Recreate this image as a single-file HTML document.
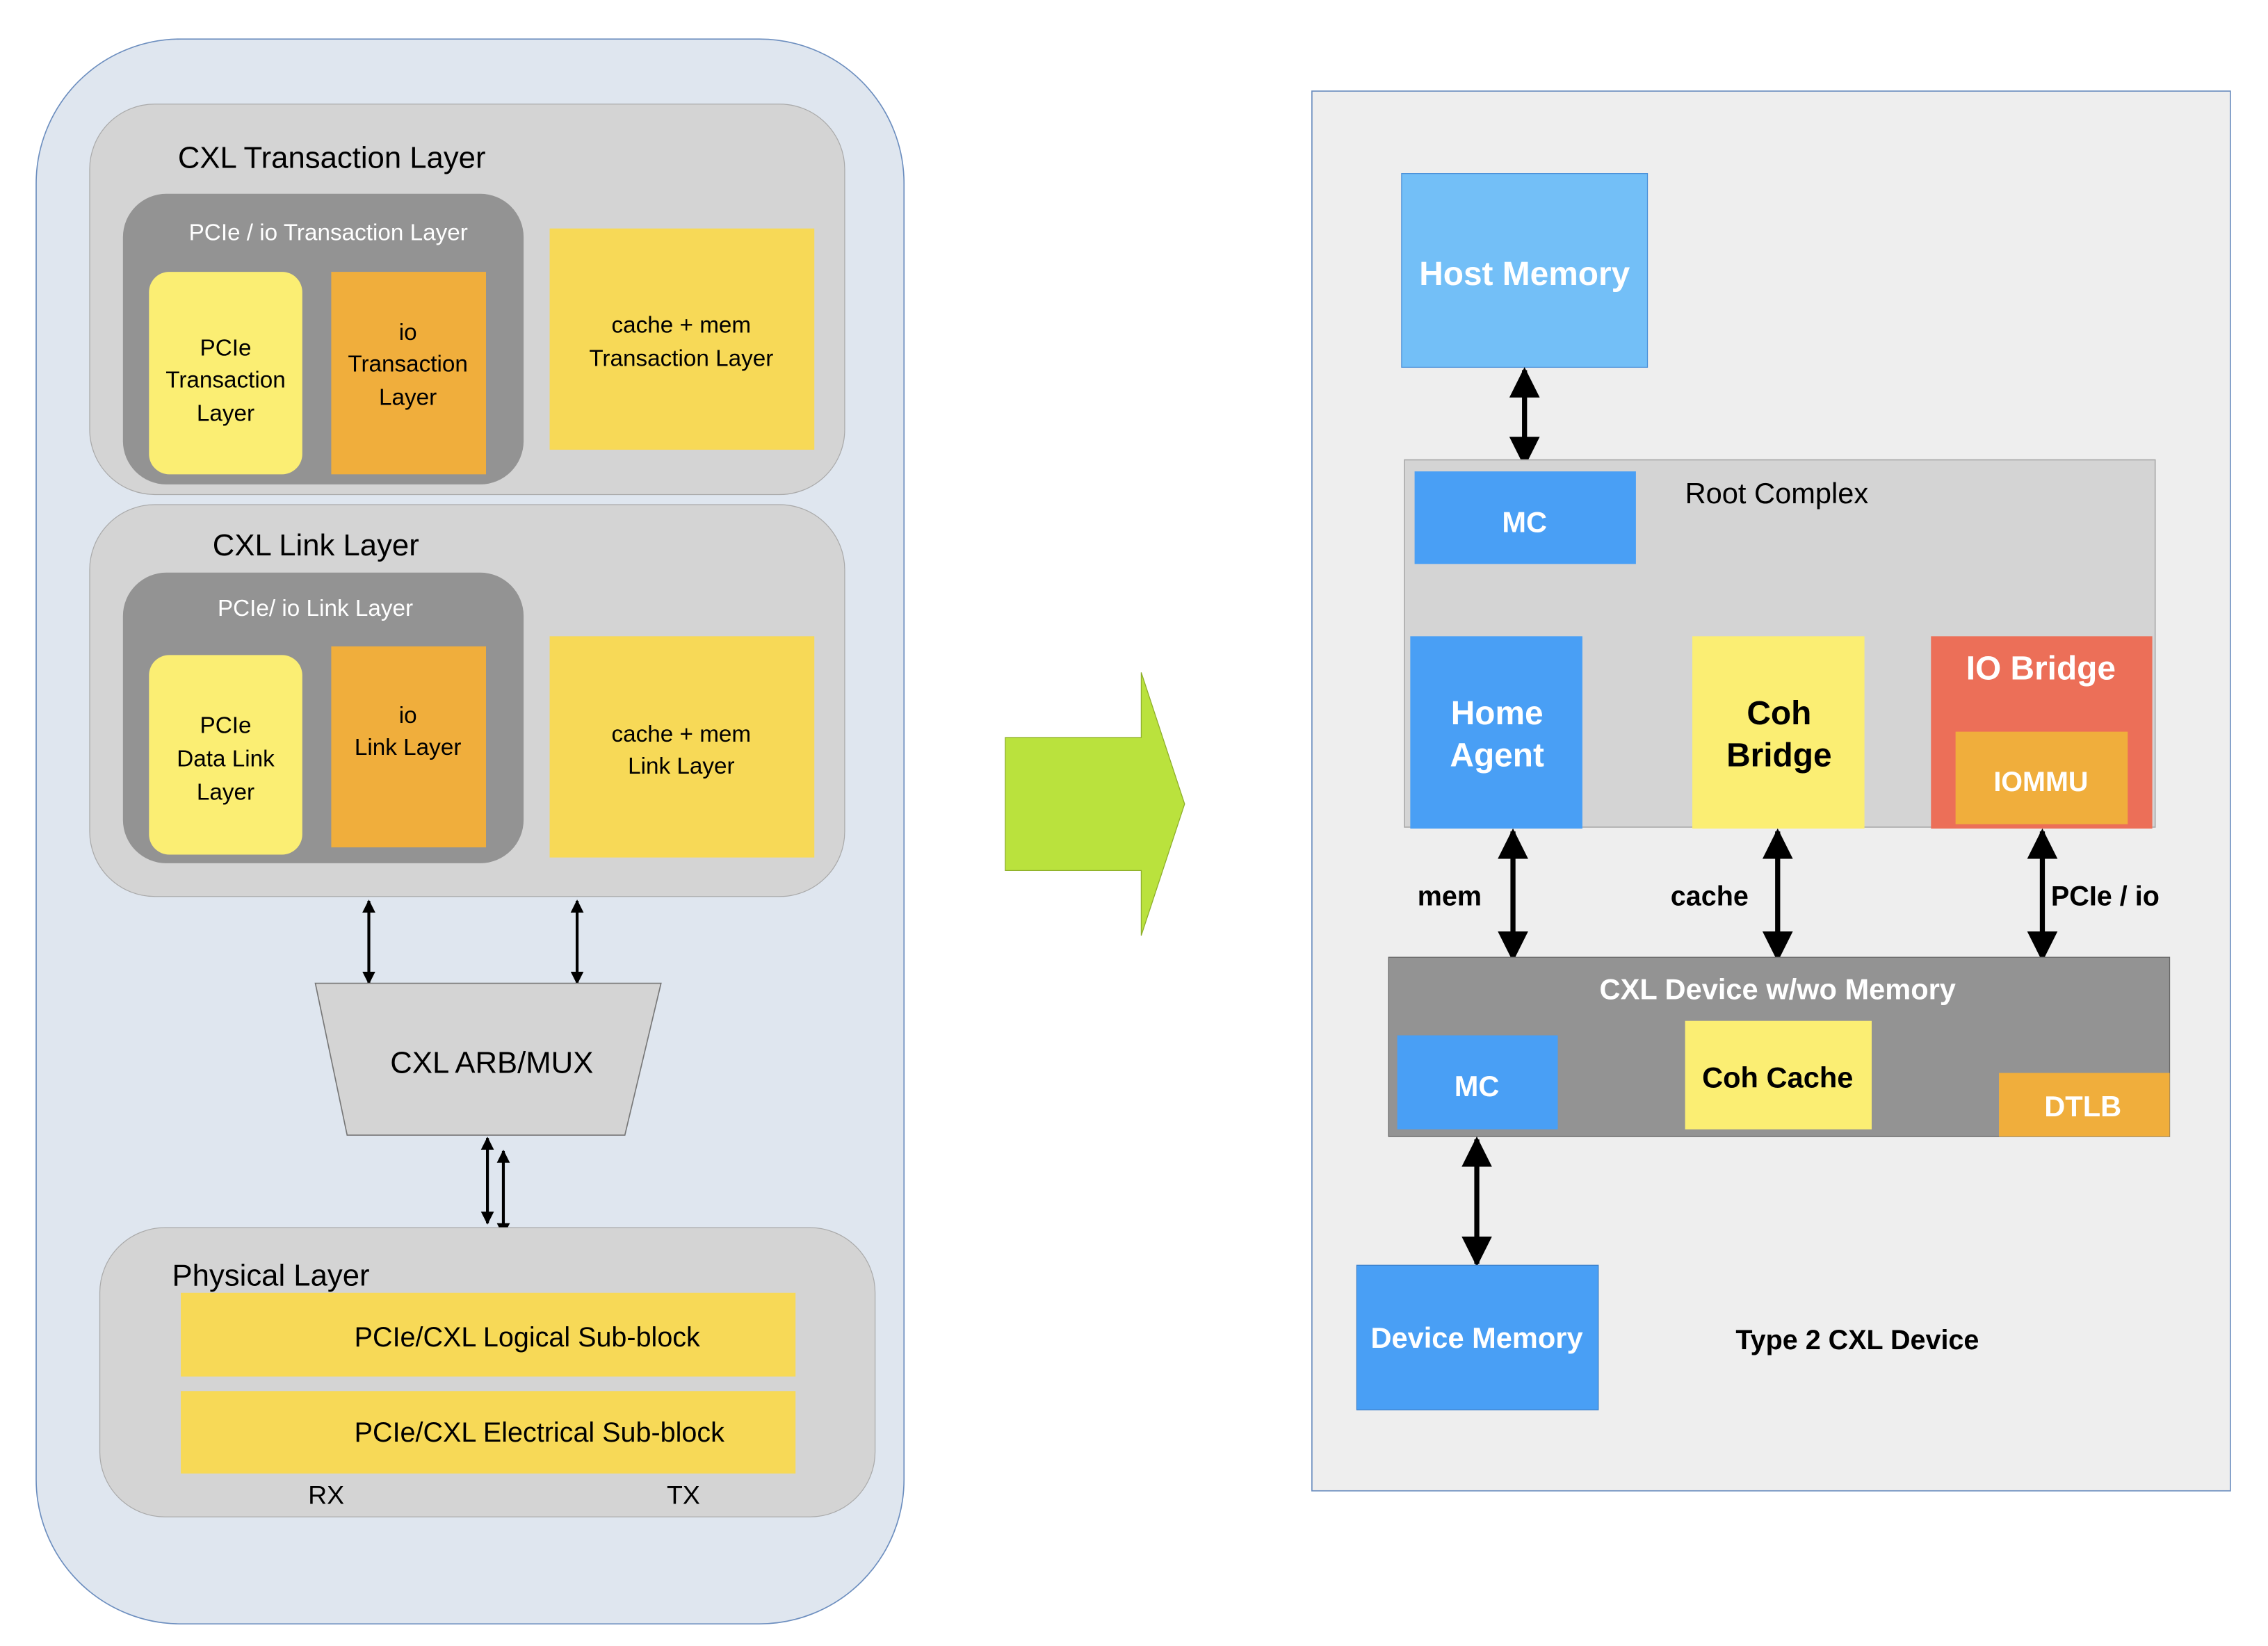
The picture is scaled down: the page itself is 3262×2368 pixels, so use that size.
<!DOCTYPE html>
<html><head><meta charset="utf-8"><style>html,body{margin:0;padding:0;background:#fff}svg{display:block}</style></head><body>
<svg width="3262" height="2368" viewBox="0 0 1568 1138.3" preserveAspectRatio="none" xmlns="http://www.w3.org/2000/svg" font-family="Liberation Sans, Arial, sans-serif">
<defs>
<marker id="a" viewBox="0 0 10 10" refX="9" refY="5" markerWidth="6" markerHeight="6" orient="auto-start-reverse"><path d="M0,0L10,5L0,10z" fill="#000"/></marker>
<marker id="b" viewBox="0 0 10 10" refX="9" refY="5" markerWidth="4.5" markerHeight="4.5" orient="auto-start-reverse"><path d="M0,0L10,5L0,10z" fill="#000"/></marker>
</defs>
<rect width="1570" height="1140" fill="#fff"/>
<!-- Left -->
<rect x="25" y="27" width="600" height="1096" rx="100" fill="#dfe6ef" stroke="#6c8ebf" stroke-width="0.8"/>
<rect x="62" y="72" width="522" height="270" rx="45" fill="#d4d4d4" stroke="#aaa" stroke-width="0.6"/>
<text x="123" y="116" font-size="21">CXL Transaction Layer</text>
<rect x="85" y="134" width="277" height="201" rx="30" fill="#939393"/>
<text x="227" y="166" font-size="16" fill="#fff" text-anchor="middle">PCIe / io Transaction Layer</text>
<rect x="103" y="188" width="106" height="140" rx="14" fill="#fbee73"/>
<g font-size="16" text-anchor="middle">
<text x="156" y="246">PCIe</text><text x="156" y="268">Transaction</text><text x="156" y="291">Layer</text>
</g>
<rect x="229" y="188" width="107" height="140" fill="#f0ae3c"/>
<g font-size="16" text-anchor="middle">
<text x="282" y="235">io</text><text x="282" y="257">Transaction</text><text x="282" y="280">Layer</text>
</g>
<rect x="380" y="158" width="183" height="153" fill="#f7d957"/>
<g font-size="16" text-anchor="middle"><text x="471" y="230">cache + mem</text><text x="471" y="253">Transaction Layer</text></g>

<rect x="62" y="349" width="522" height="271" rx="45" fill="#d4d4d4" stroke="#aaa" stroke-width="0.6"/>
<text x="147" y="384" font-size="21">CXL Link Layer</text>
<rect x="85" y="396" width="277" height="201" rx="30" fill="#939393"/>
<text x="218" y="426" font-size="16" fill="#fff" text-anchor="middle">PCIe/ io Link Layer</text>
<rect x="103" y="453" width="106" height="138" rx="14" fill="#fbee73"/>
<g font-size="16" text-anchor="middle"><text x="156" y="507">PCIe</text><text x="156" y="530">Data Link</text><text x="156" y="553">Layer</text></g>
<rect x="229" y="447" width="107" height="139" fill="#f0ae3c"/>
<g font-size="16" text-anchor="middle"><text x="282" y="500">io</text><text x="282" y="522">Link Layer</text></g>
<rect x="380" y="440" width="183" height="153" fill="#f7d957"/>
<g font-size="16" text-anchor="middle"><text x="471" y="513">cache + mem</text><text x="471" y="535">Link Layer</text></g>

<line x1="255" y1="623" x2="255" y2="680" stroke="#000" stroke-width="2" marker-start="url(#b)" marker-end="url(#b)"/>
<line x1="399" y1="623" x2="399" y2="680" stroke="#000" stroke-width="2" marker-start="url(#b)" marker-end="url(#b)"/>
<polygon points="218,680 457,680 432,785 240,785" fill="#d4d4d4" stroke="#777" stroke-width="0.8"/>
<text x="340" y="742" font-size="21" text-anchor="middle">CXL ARB/MUX</text>
<line x1="337" y1="787" x2="337" y2="846" stroke="#000" stroke-width="2" marker-start="url(#b)" marker-end="url(#b)"/>
<line x1="348" y1="796" x2="348" y2="854" stroke="#000" stroke-width="2" marker-start="url(#b)" marker-end="url(#b)"/>

<rect x="69" y="849" width="536" height="200" rx="45" fill="#d4d4d4" stroke="#aaa" stroke-width="0.6"/>
<text x="119" y="889" font-size="21">Physical Layer</text>
<rect x="125" y="894" width="425" height="58" fill="#f7d957"/>
<text x="245" y="931" font-size="19">PCIe/CXL Logical Sub-block</text>
<rect x="125" y="962" width="425" height="57" fill="#f7d957"/>
<text x="245" y="997" font-size="19">PCIe/CXL Electrical Sub-block</text>
<text x="213" y="1040" font-size="18">RX</text>
<text x="461" y="1040" font-size="18">TX</text>

<!-- Green arrow -->
<polygon points="695,510 789,510 789,465 819,556 789,647 789,602 695,602" fill="#bae23d" stroke="#8cad2a" stroke-width="0.6"/>

<!-- Right -->
<rect x="907" y="63" width="635" height="968" fill="#eeeeee" stroke="#6c8ebf" stroke-width="0.8"/>
<rect x="969" y="120" width="170" height="134" fill="#73bff7" stroke="#4a90d9" stroke-width="0.6"/>
<text x="1054" y="197" font-size="23" font-weight="bold" fill="#fff" text-anchor="middle">Host Memory</text>
<line x1="1054" y1="256" x2="1054" y2="321" stroke="#000" stroke-width="3.5" marker-start="url(#a)" marker-end="url(#a)"/>
<rect x="971" y="318" width="519" height="254" fill="#d4d4d4" stroke="#aaa" stroke-width="0.8"/>
<text x="1165" y="348" font-size="20">Root Complex</text>
<rect x="978" y="326" width="153" height="64" fill="#499ff5"/>
<text x="1054" y="368" font-size="20" font-weight="bold" fill="#fff" text-anchor="middle">MC</text>
<rect x="975" y="440" width="119" height="133" fill="#499ff5"/>
<g font-size="23" font-weight="bold" fill="#fff" text-anchor="middle"><text x="1035" y="501">Home</text><text x="1035" y="530">Agent</text></g>
<rect x="1170" y="440" width="119" height="133" fill="#fbee73"/>
<g font-size="23" font-weight="bold" text-anchor="middle"><text x="1230" y="501">Coh</text><text x="1230" y="530">Bridge</text></g>
<rect x="1335" y="440" width="153" height="133" fill="#ec6f58"/>
<text x="1411" y="470" font-size="23" font-weight="bold" fill="#fff" text-anchor="middle">IO Bridge</text>
<rect x="1352" y="506" width="119" height="64" fill="#f0ae3c"/>
<text x="1411" y="547" font-size="19" font-weight="bold" fill="#fff" text-anchor="middle">IOMMU</text>

<line x1="1046" y1="575" x2="1046" y2="663" stroke="#000" stroke-width="3.5" marker-start="url(#a)" marker-end="url(#a)"/>
<line x1="1229" y1="575" x2="1229" y2="663" stroke="#000" stroke-width="3.5" marker-start="url(#a)" marker-end="url(#a)"/>
<line x1="1412" y1="575" x2="1412" y2="663" stroke="#000" stroke-width="3.5" marker-start="url(#a)" marker-end="url(#a)"/>
<g font-size="19" font-weight="bold"><text x="980" y="626">mem</text><text x="1155" y="626">cache</text><text x="1418" y="626">PCIe / io</text></g>

<rect x="960" y="662" width="540" height="124" fill="#939393" stroke="#666" stroke-width="0.6"/>
<text x="1229" y="691" font-size="20" font-weight="bold" fill="#fff" text-anchor="middle">CXL Device w/wo Memory</text>
<rect x="966" y="716" width="111" height="65" fill="#499ff5"/>
<text x="1021" y="758" font-size="20" font-weight="bold" fill="#fff" text-anchor="middle">MC</text>
<rect x="1165" y="706" width="129" height="75" fill="#fbee73"/>
<text x="1229" y="752" font-size="20" font-weight="bold" text-anchor="middle">Coh Cache</text>
<rect x="1382" y="742" width="118" height="44" fill="#f0ae3c"/>
<text x="1440" y="772" font-size="20" font-weight="bold" fill="#fff" text-anchor="middle">DTLB</text>
<line x1="1021" y1="788" x2="1021" y2="874" stroke="#000" stroke-width="3.5" marker-start="url(#a)" marker-end="url(#a)"/>
<rect x="938" y="875" width="167" height="100" fill="#499ff5" stroke="#3a7fc9" stroke-width="0.6"/>
<text x="1021" y="932" font-size="20" font-weight="bold" fill="#fff" text-anchor="middle">Device Memory</text>
<text x="1200" y="933" font-size="19" font-weight="bold">Type 2 CXL Device</text>
</svg>
</body></html>
